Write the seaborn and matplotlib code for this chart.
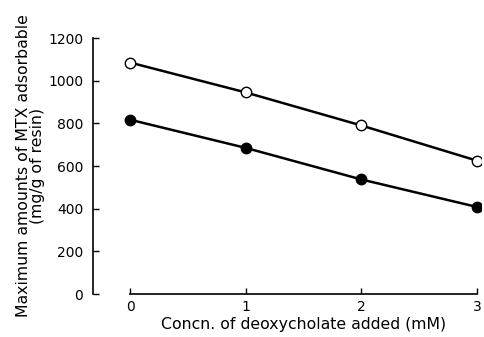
import matplotlib
matplotlib.use("Agg")
import matplotlib.pyplot as plt
import seaborn as sns
import pandas as pd

conc = [0, 1, 2, 3]
open_vals = [1085, 945, 790, 625]
filled_vals = [817, 685, 537, 408]
x_ticks = [0, 1, 2, 3]
y_ticks = [0, 200, 400, 600, 800, 1000, 1200]

sns.set_style("ticks")
plt.rcParams['font.family'] = ['DejaVu Sans']

df_open = pd.DataFrame({"x": conc, "y": open_vals})
df_fill = pd.DataFrame({"x": conc, "y": filled_vals})

fig = plt.figure(figsize=(4.84, 3.37), dpi=100)
ax = fig.add_axes([93/484, 1-294/337, (481-93)/484, (294-38)/337])

sns.lineplot(data=df_open, x="x", y="y", ax=ax, color="black", lw=1.8,
             marker="o", markersize=7.5, markerfacecolor="white",
             markeredgecolor="black", markeredgewidth=1.0)
sns.lineplot(data=df_fill, x="x", y="y", ax=ax, color="black", lw=1.8,
             marker="o", markersize=7.5, markerfacecolor="black",
             markeredgecolor="black", markeredgewidth=1.0)

ax.set_xlim(-0.32, 3.035)
ax.set_ylim(0, 1200)
ax.set_xticks(x_ticks)
ax.set_yticks(y_ticks)
ax.set_xticklabels([str(t) for t in x_ticks])
ax.set_yticklabels([str(t) for t in y_ticks])
sns.despine(ax=ax)
ax.spines['bottom'].set_bounds(0, 3)
ax.spines['left'].set_bounds(0, 1200)
for s in ['bottom', 'left']:
    ax.spines[s].set_linewidth(1.2)
    ax.spines[s].set_color('black')
ax.tick_params(axis='both', direction='in', length=4, width=1.0,
               labelsize=10, colors='black')
ax.tick_params(axis='x', pad=4)
ax.tick_params(axis='y', pad=7)

ax.set_xlabel("Concn. of deoxycholate added (mM)", fontsize=11.3, color='black')
ax.xaxis.set_label_coords(1.5, -0.088, transform=ax.get_xaxis_transform())
ax.set_ylabel("Maximum amounts of MTX adsorbable\n(mg/g of resin)",
              fontsize=11.3, labelpad=2, linespacing=0.95, color='black')

fig.savefig("out.png", dpi=100)
